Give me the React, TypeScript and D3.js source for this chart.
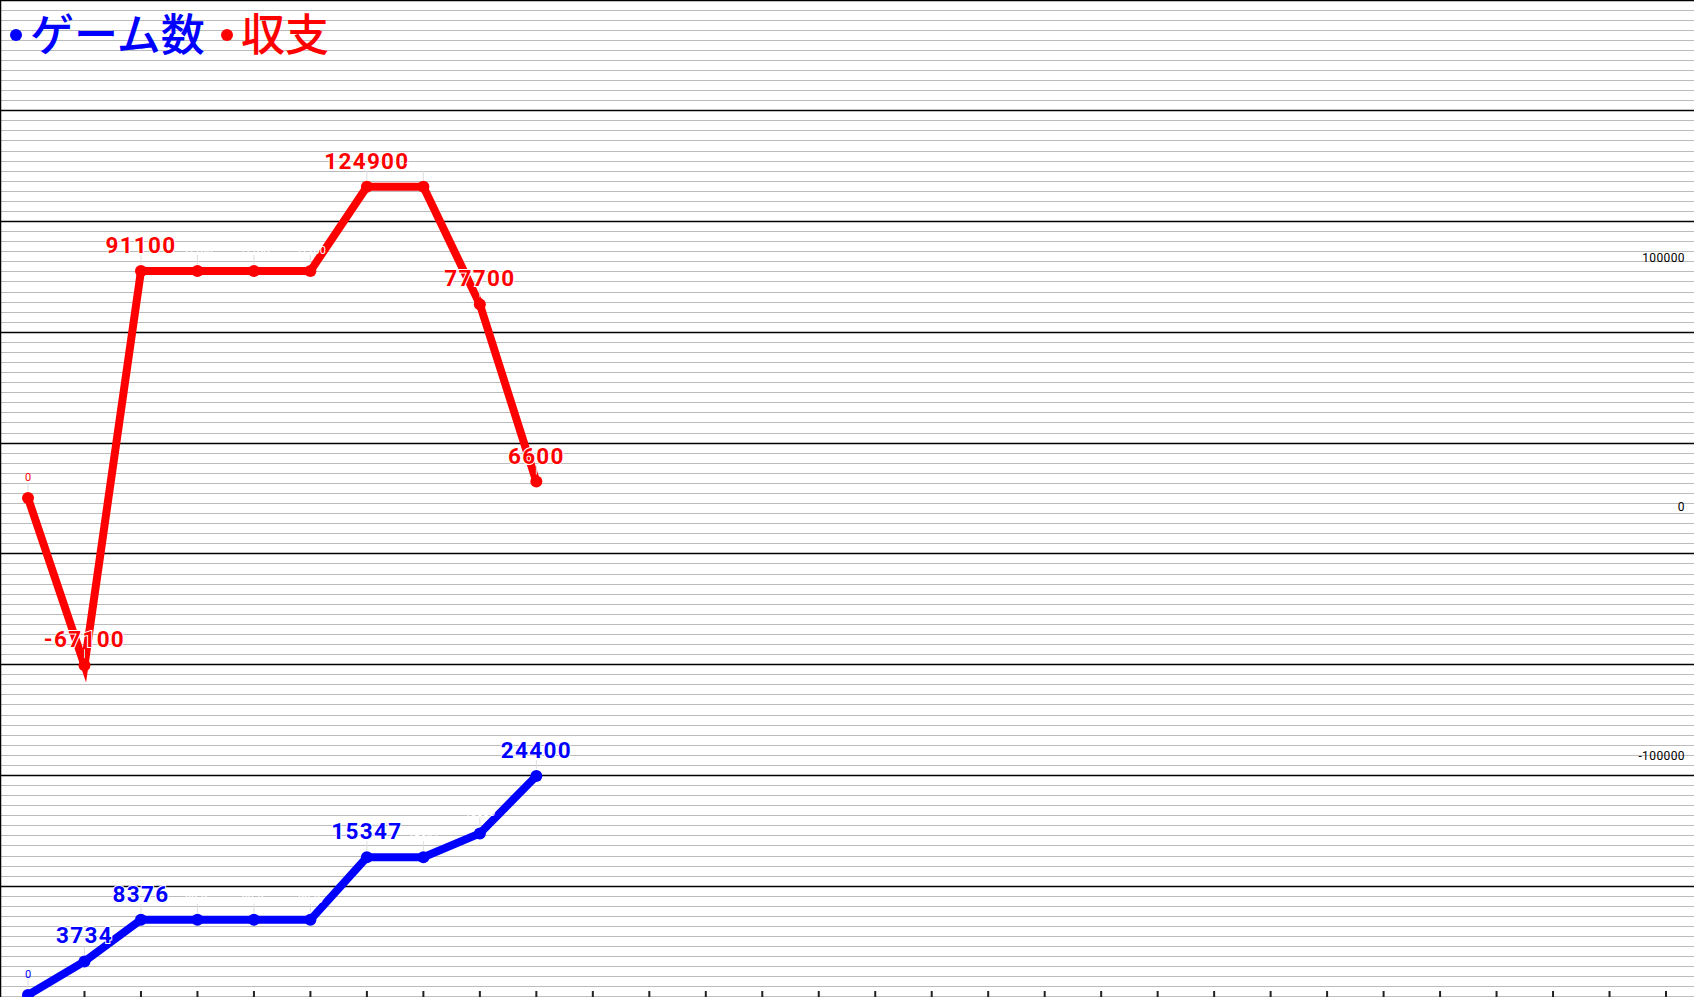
import React from 'react';
import * as d3 from 'd3';

// ---- data ----
const pointIndex = [0, 1, 2, 3, 4, 5, 6, 7, 8, 9];
const gameCounts = [0, 3734, 8376, 8376, 8376, 8376, 15347, 15347, 18000, 24400];
const balance = [0, -67100, 91100, 91100, 91100, 91100, 124900, 124900, 77700, 6600];
const gameHighlights = [1, 2, 6, 9];
const balanceHighlights = [1, 2, 6, 8, 9];
const rightTicks = [-100000, 0, 100000];
const legendItems = ['ゲーム数', '収支'];
const slotCount = 30;

const W = 1694;
const H = 997;
const BLUE = '#0000ff';
const RED = '#ff0000';

export default function App() {
  const x = d3.scaleLinear().domain([0, slotCount - 1]).range([28, 1666]);
  const yBlue = d3.scaleLinear().domain([0, 24400]).range([995, 776]);
  const yRed = d3.scaleLinear().domain([-100000, 100000]).range([747.2, 248.8]);

  const minorCount = 99;
  const step = H / minorCount;
  const grid = d3.range(minorCount + 1).map((k) => ({
    y: Math.floor(k * step) + 0.5,
    major: k % 11 === 0,
  }));

  const blueLine = d3
    .line<number>()
    .x((_, i) => x(pointIndex[i]))
    .y((d) => yBlue(d))(gameCounts) as string;
  const redLine = d3
    .line<number>()
    .x((_, i) => x(pointIndex[i]))
    .y((d) => yRed(d))(balance) as string;

  const series = [
    { values: gameCounts, y: yBlue, color: BLUE, path: blueLine, hi: gameHighlights },
    { values: balance, y: yRed, color: RED, path: redLine, hi: balanceHighlights },
  ];

  return (
    <svg
      width={W}
      height={H}
      style={{ position: 'absolute', left: 0, top: 0, background: '#fff' }}
    >
      <rect x={0} y={0} width={W} height={H} fill="#fff" />
      {grid
        .filter((g) => !g.major)
        .map((g, i) => (
          <line key={'m' + i} x1={0} x2={W} y1={g.y} y2={g.y} stroke="#bbbbbb" strokeWidth={1} />
        ))}
      {grid
        .filter((g) => g.major)
        .map((g, i) => (
          <line key={'M' + i} x1={0} x2={W} y1={g.y} y2={g.y} stroke="#000" strokeWidth={1.3} />
        ))}
      <line x1={0.5} x2={0.5} y1={0} y2={H} stroke="#000" strokeWidth={1.5} />

      {/* x ticks */}
      {d3.range(slotCount).map((i) => (
        <rect key={'t' + i} x={x(i) - 1} y={991} width={2} height={6} fill="#222" />
      ))}

      {/* right axis labels */}
      {rightTicks.map((v) => (
        <text
          key={'r' + v}
          x={1685}
          y={yRed(v) + 10}
          textAnchor="end"
          dominantBaseline="middle"
          fontFamily="Roboto, sans-serif"
          fontSize={12}
          letterSpacing={0.4}
          fill="#000"
        >
          {v}
        </text>
      ))}

      {/* lines */}
      {series.map((s, si) => (
        <g key={'s' + si}>
          <path
            d={s.path}
            fill="none"
            stroke={s.color}
            strokeWidth={8}
            strokeLinejoin="miter"
            strokeMiterlimit={10}
          />
          {s.values.map((v, i) => (
            <circle key={i} cx={x(pointIndex[i])} cy={s.y(v)} r={6} fill={s.color} />
          ))}
        </g>
      ))}

      {/* connectors and labels */}
      {series.map((s, si) => (
        <g key={'l' + si}>
          {s.values.map((v, i) => {
            const px = x(pointIndex[i]);
            const py = s.y(v);
            const big = s.hi.includes(i);
            return (
              <g key={i}>
                <line x1={px} x2={px} y1={py - 16} y2={py - 7} stroke="#dddddd" strokeWidth={1} />
                {big ? (
                  <text
                    x={px}
                    y={py - 18}
                    textAnchor="middle"
                    fontFamily="Roboto, sans-serif"
                    fontWeight="bold"
                    fontSize={22.5}
                    letterSpacing={1.3}
                    fill={s.color}
                    stroke="#fff"
                    strokeWidth={2}
                    paintOrder="stroke"
                  >
                    {v}
                  </text>
                ) : (
                  <text
                    x={px}
                    y={py - 17}
                    textAnchor="middle"
                    fontFamily="Roboto, sans-serif"
                    fontSize={11}
                    fill={i === 0 ? s.color : '#fff'}
                  >
                    {v}
                  </text>
                )}
              </g>
            );
          })}
        </g>
      ))}

      {/* legend */}
      <circle cx={16} cy={35} r={6} fill={BLUE} />
      <text x={30} y={51} fontFamily="'Noto Sans CJK JP', sans-serif" fontSize={44} fontWeight={500} fill={BLUE}>
        {legendItems[0]}
      </text>
      <circle cx={227} cy={35} r={6} fill={RED} />
      <text x={241} y={51} fontFamily="'Noto Sans CJK JP', sans-serif" fontSize={44} fontWeight={500} fill={RED}>
        {legendItems[1]}
      </text>
    </svg>
  );
}
